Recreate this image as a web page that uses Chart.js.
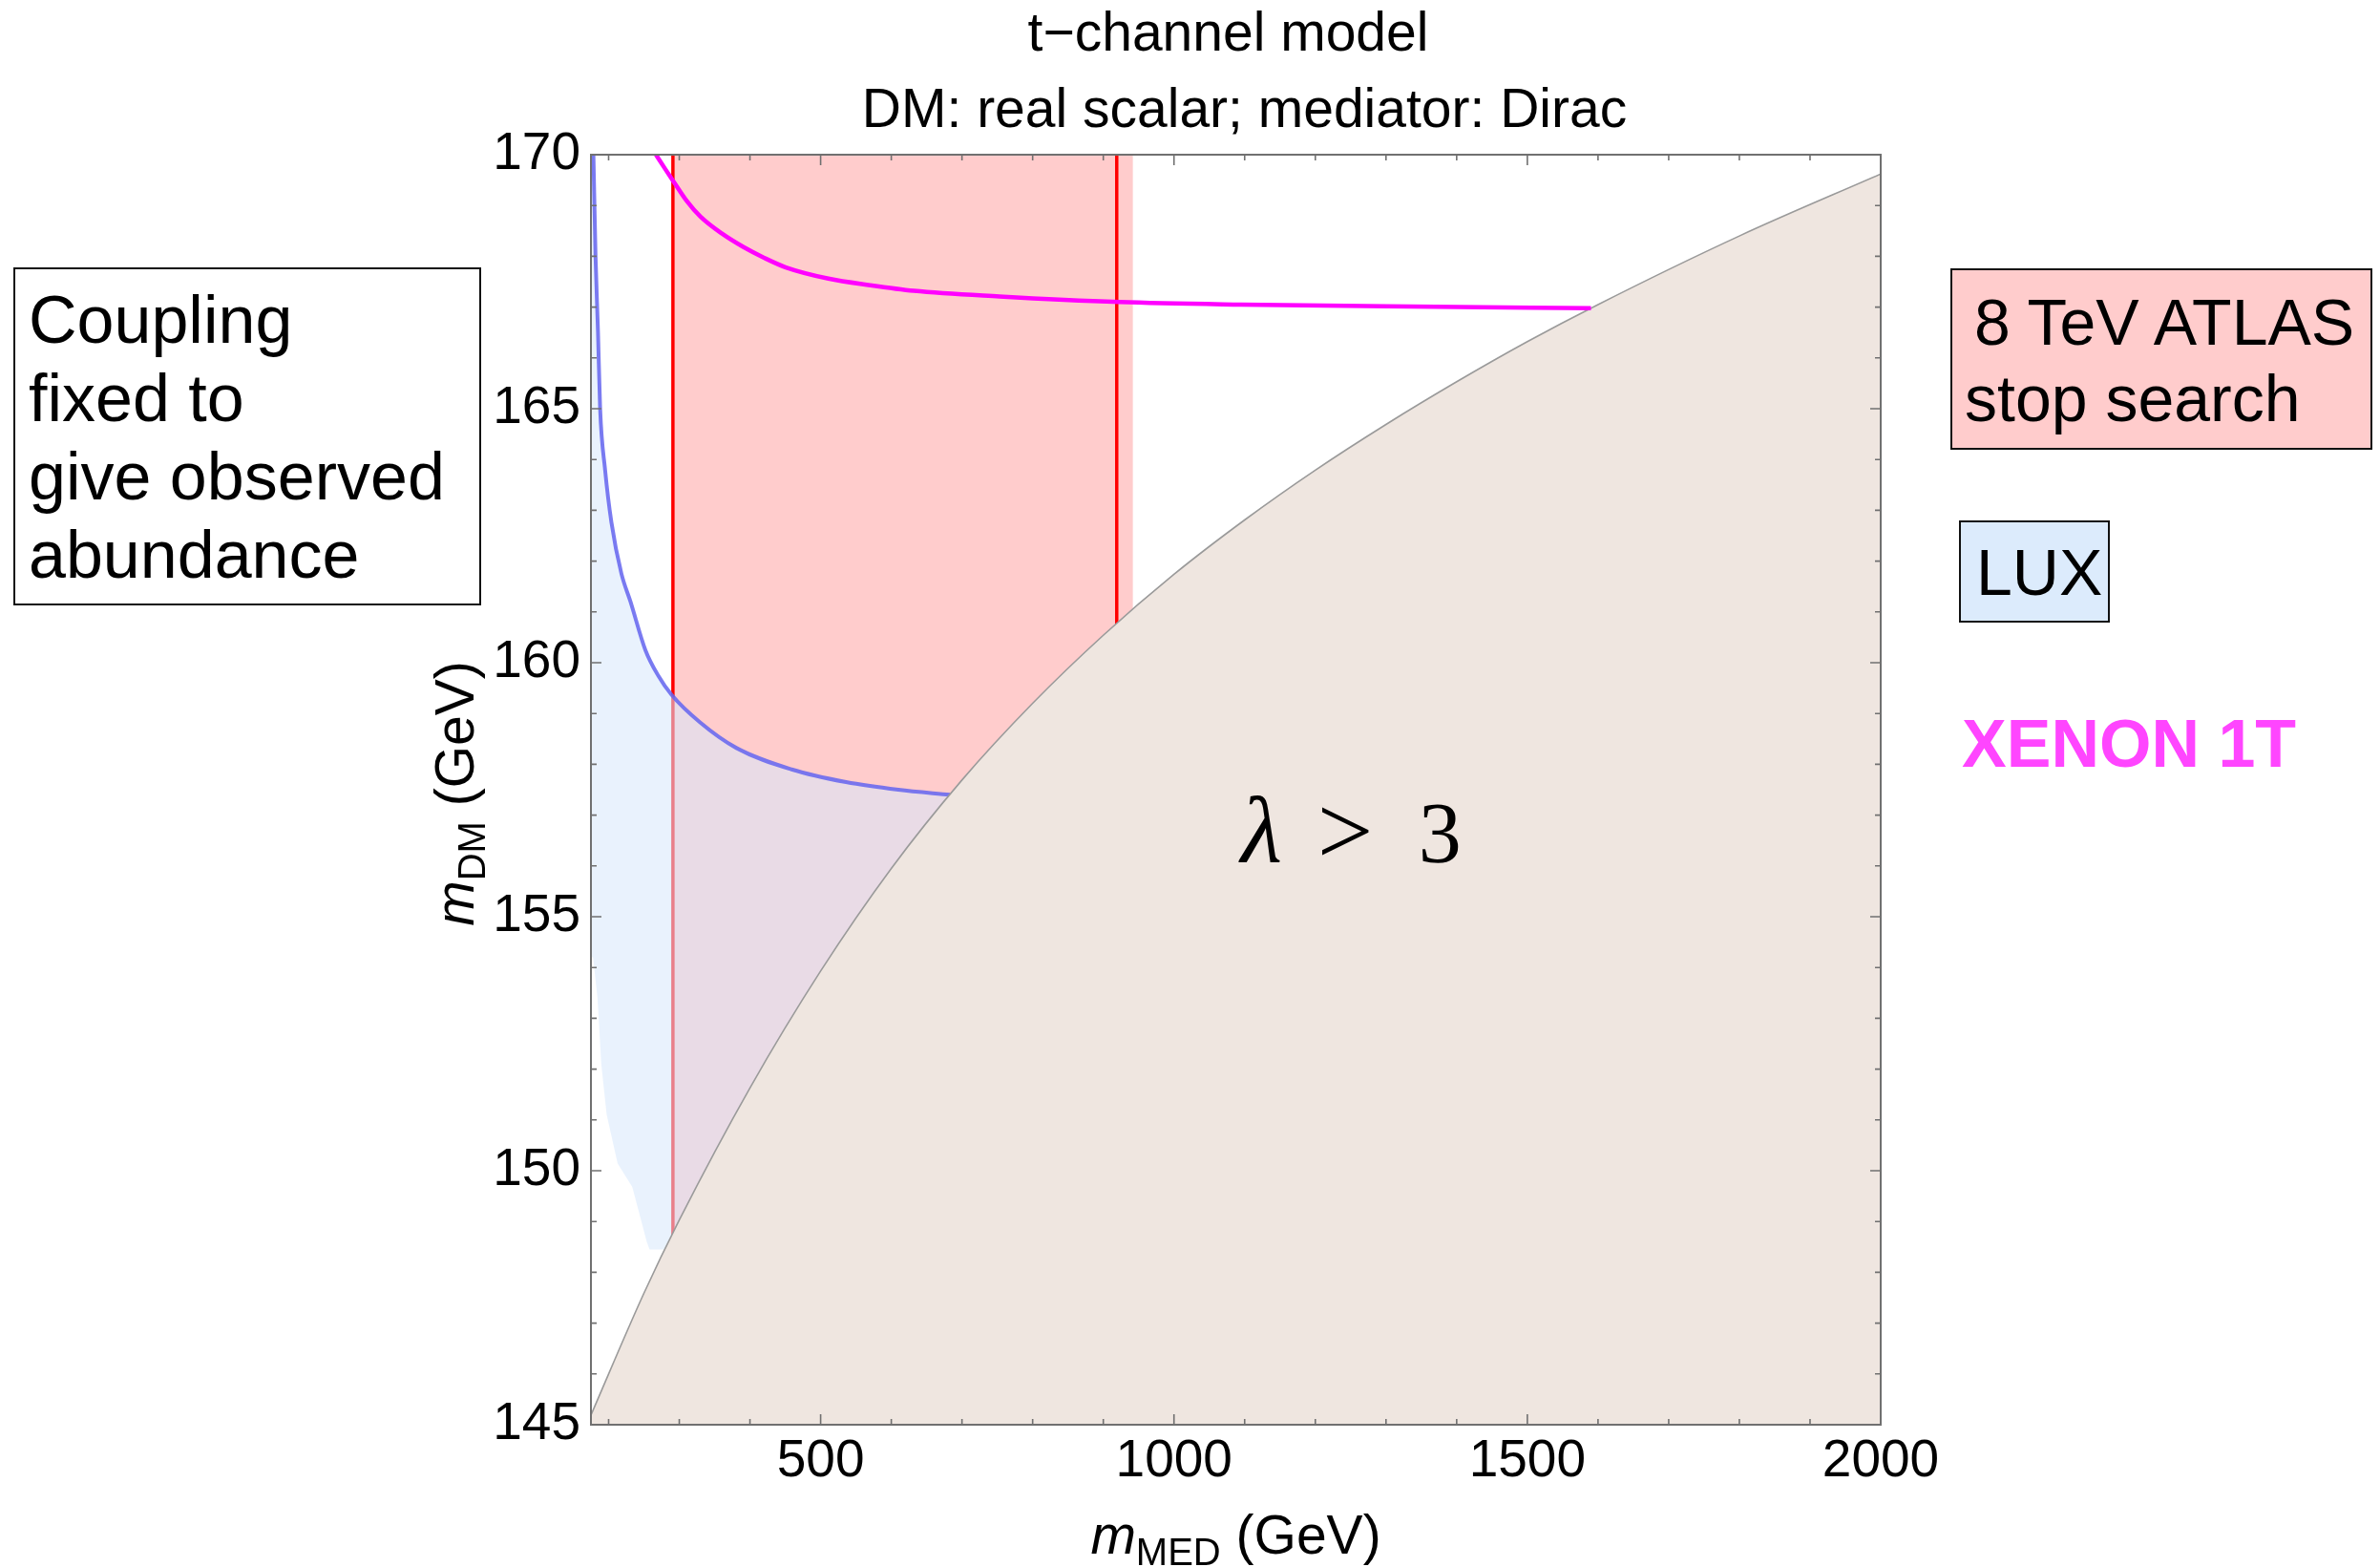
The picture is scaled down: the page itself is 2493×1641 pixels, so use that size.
<!DOCTYPE html>
<html><head><meta charset="utf-8">
<script src="https://cdn.jsdelivr.net/npm/chart.js@4"></script>
<style>
html,body{margin:0;padding:0;background:#fff;}
#wrap{position:relative;width:2493px;height:1641px;overflow:hidden;background:#fff;}
#c{position:absolute;left:0;top:0;}
.box{position:absolute;box-sizing:border-box;border:2px solid #111;}
.t{position:absolute;font-family:"Liberation Sans",Arial,sans-serif;white-space:nowrap;color:#000;}
</style></head><body>
<div id="wrap">
<canvas id="c" width="2493" height="1641" style="width:2493px;height:1641px"></canvas>
<div class="box" style="left:14px;top:280px;width:490px;height:354px;"></div>
<div class="t" style="left:30px;top:294px;font-size:70px;line-height:82px;">Coupling<br>fixed to<br>give observed<br>abundance</div>
<div class="box" style="left:2043px;top:281px;width:442px;height:190px;background:#ffcccc;"></div>
<div class="t" style="left:2068px;top:297px;font-size:68px;line-height:80px;">8 TeV ATLAS</div>
<div class="t" style="left:2058px;top:377px;font-size:68px;line-height:80px;">stop search</div>
<div class="box" style="left:2052px;top:545px;width:158px;height:107px;background:#dcebfc;"></div>
<div class="t" style="left:2070px;top:559px;font-size:68px;line-height:80px;">LUX</div>
<div class="t" style="left:2055px;top:739px;font-size:70px;line-height:80px;font-weight:bold;color:#ff45ff;">XENON 1T</div>
</div>
<script>
// ---- axis ticks ----
const xMajorTicks = [500, 1000, 1500, 2000];
const xTickValues = [200,300,400,500,600,700,800,900,1000,1100,1200,1300,1400,1500,1600,1700,1800,1900,2000];
const yMajorTicks = [145, 150, 155, 160, 165, 170];
const yTickValues = [145,146,147,148,149,150,151,152,153,154,155,156,157,158,159,160,161,162,163,164,165,166,167,168,169,170];

// ---- lambda > 3 boundary (m_MED, m_DM) ----
const lambdaX = [175, 250, 300, 400, 500, 600, 700, 800, 900, 1000, 1100, 1200, 1300, 1400, 1500, 1600, 1800, 2000];
const lambdaY = [145.19, 147.59, 149.03, 151.63, 153.93, 155.95, 157.69, 159.2, 160.54, 161.74, 162.81, 163.79, 164.69, 165.53, 166.32, 167.05, 168.4, 169.62];

// ---- XENON 1T projection ----
const xenonX = [267, 280, 292, 310, 330, 360, 391, 420, 451, 511, 570, 632, 753, 923, 1095, 1336, 1590];
const xenonY = [170, 169.72, 169.47, 169.1, 168.78, 168.45, 168.18, 167.97, 167.78, 167.56, 167.43, 167.32, 167.21, 167.1, 167.05, 167.01, 166.98];

// ---- LUX boundary line ----
const luxLineX = [178.5, 181.5, 185, 188, 195, 204, 218, 231, 252, 270, 289, 329, 381, 459, 536, 610, 683];
const luxLineY = [170, 168, 166.5, 165, 163.8, 162.76, 161.76, 161.2, 160.25, 159.75, 159.37, 158.83, 158.32, 157.9, 157.65, 157.5, 157.4];

// ---- LUX excluded region (closed outline) ----
const luxRegionX = [175, 178.5, 181.5, 185, 188, 195, 204, 218, 231, 252, 270, 289, 329, 381, 459, 536, 610, 683, 600, 500, 400, 300, 278, 258, 254, 233.5, 212.8, 197.3, 189.6, 184.3, 178, 175, 175];
const luxRegionY = [170, 170, 168, 166.5, 165, 163.8, 162.76, 161.76, 161.2, 160.25, 159.75, 159.37, 158.83, 158.32, 157.9, 157.65, 157.5, 157.4, 155.9, 153.9, 151.6, 149.0, 148.45, 148.45, 148.6, 149.68, 150.14, 151.1, 152.1, 153.4, 154.2, 154.2, 170];

// ---- ATLAS stop search band ----
const atlasFillX = [291, 942];
const atlasLeftLineX = 291;
const atlasRightLineX = 919;

const pts = (xs, ys) => xs.map((x, i) => ({x: x, y: ys[i]}));
const FONT = '"Liberation Sans", Arial, sans-serif';
const SERIF = '"Liberation Serif", "DejaVu Serif", serif';

const framePlugin = {
  id: 'frameTicks',
  afterDatasetsDraw(chart) {
    const {ctx, chartArea: a, scales: {x, y}} = chart;
    ctx.save();
    ctx.strokeStyle = '#707070';
    ctx.lineWidth = 1.6;
    ctx.beginPath();
    xTickValues.forEach(v => {
      const px = x.getPixelForValue(v);
      const len = xMajorTicks.includes(v) ? 11 : 6;
      ctx.moveTo(px, a.bottom); ctx.lineTo(px, a.bottom - len);
      ctx.moveTo(px, a.top); ctx.lineTo(px, a.top + len);
    });
    yTickValues.forEach(v => {
      const py = y.getPixelForValue(v);
      const len = yMajorTicks.includes(v) ? 11 : 6;
      ctx.moveTo(a.left, py); ctx.lineTo(a.left + len, py);
      ctx.moveTo(a.right, py); ctx.lineTo(a.right - len, py);
    });
    ctx.stroke();
    ctx.lineWidth = 2;
    ctx.strokeRect(a.left, a.top, a.right - a.left, a.bottom - a.top);
    ctx.restore();
  },
  afterDraw(chart) {
    const {ctx, chartArea: a, scales: {x, y}} = chart;
    const cx = (a.left + a.right) / 2;
    ctx.save();
    ctx.fillStyle = '#000';
    ctx.textBaseline = 'alphabetic';
    // title
    ctx.textAlign = 'center';
    ctx.font = '57px ' + FONT;
    ctx.fillText('t\u2212channel model', cx - 8, a.top - 109);
    ctx.fillText('DM: real scalar; mediator: Dirac', cx + 9, a.top - 29);
    // x axis title
    ctx.textAlign = 'left';
    const big = '57px ' + FONT, bigI = 'italic 57px ' + FONT, sub = '40px ' + FONT;
    ctx.font = bigI; const wm = ctx.measureText('m').width;
    ctx.font = sub; const wMED = ctx.measureText('MED').width, wDM = ctx.measureText('DM').width;
    ctx.font = big; const wsp = ctx.measureText(' ').width, wG = ctx.measureText('(GeV)').width;
    let tot = wm + wMED + wsp + wG;
    let sx = cx - tot / 2;
    const by = a.bottom + 135;
    ctx.font = bigI; ctx.fillText('m', sx, by);
    ctx.font = sub; ctx.fillText('MED', sx + wm, by + 12);
    ctx.font = big; ctx.fillText('(GeV)', sx + wm + wMED + wsp, by);
    // y axis title
    ctx.save();
    ctx.translate(a.left - 123, (a.top + a.bottom) / 2 + 4);
    ctx.rotate(-Math.PI / 2);
    tot = wm + wDM + wsp + wG;
    sx = -tot / 2;
    ctx.font = bigI; ctx.fillText('m', sx, 0);
    ctx.font = sub; ctx.fillText('DM', sx + wm, 12);
    ctx.font = big; ctx.fillText('(GeV)', sx + wm + wDM + wsp, 0);
    ctx.restore();
    // lambda > 3 label
    const lx = x.getPixelForValue(1100), ly = y.getPixelForValue(156.07);
    ctx.font = 'italic 100px ' + SERIF;
    ctx.fillText('\u03bb', lx - 4, ly);
    ctx.font = '104px ' + SERIF;
    ctx.fillText('>', lx + 76, ly + 2);
    ctx.font = '90px ' + SERIF;
    ctx.fillText('3', lx + 182, ly);
    ctx.restore();
  }
};

new Chart(document.getElementById('c'), {
  type: 'line',
  data: {
    datasets: [
      { label: 'XENON 1T', data: pts(xenonX, xenonY), borderColor: '#ff00ff', borderWidth: 4.5,
        pointRadius: 0, fill: false, cubicInterpolationMode: 'monotone', order: 0 },
      { label: 'lambda>3', data: pts(lambdaX, lambdaY), borderColor: '#9a9a9a', borderWidth: 1.6,
        backgroundColor: '#efe6e0', pointRadius: 0, fill: 'start', cubicInterpolationMode: 'monotone', order: 1 },
      { label: 'LUX line', data: pts(luxLineX, luxLineY), borderColor: 'rgba(100,100,238,0.85)', borderWidth: 4,
        pointRadius: 0, fill: false, cubicInterpolationMode: 'monotone', order: 2 },
      { label: 'LUX region', data: pts(luxRegionX, luxRegionY), borderWidth: 0, borderColor: 'rgba(0,0,0,0)',
        backgroundColor: 'rgba(215,232,252,0.55)', pointRadius: 0, fill: 'shape', tension: 0, order: 3 },
      { label: 'ATLAS left', data: [{x: atlasLeftLineX, y: 170}, {x: atlasLeftLineX, y: 145}], borderColor: '#ff0000',
        borderWidth: 3.5, pointRadius: 0, fill: false, order: 4 },
      { label: 'ATLAS right', data: [{x: atlasRightLineX, y: 170}, {x: atlasRightLineX, y: 145}], borderColor: '#ff0000',
        borderWidth: 3.5, pointRadius: 0, fill: false, order: 4 },
      { label: 'ATLAS band', data: [{x: atlasFillX[0], y: 170}, {x: atlasFillX[1], y: 170}], borderWidth: 0,
        borderColor: 'rgba(0,0,0,0)', backgroundColor: '#ffcccc', pointRadius: 0, fill: 'start', order: 5 }
    ]
  },
  options: {
    responsive: false, animation: false, devicePixelRatio: 1,
    layout: { padding: { left: 0, top: 162, right: 523, bottom: 0 } },
    plugins: { legend: { display: false }, tooltip: { enabled: false }, title: { display: false } },
    scales: {
      x: {
        type: 'linear', min: 175, max: 2000,
        grid: { display: false, drawTicks: false, tickLength: 0 }, border: { display: false },
        afterBuildTicks: s => { s.ticks = xTickValues.map(v => ({value: v})); },
        afterFit: s => { s.height = 149; },
        ticks: { autoSkip: false, maxRotation: 0, minRotation: 0, padding: 6, color: '#000',
          font: { family: FONT, size: 55 },
          callback: v => xMajorTicks.includes(v) ? String(v) : '' }
      },
      y: {
        type: 'linear', min: 145, max: 170,
        grid: { display: false, drawTicks: false, tickLength: 0 }, border: { display: false },
        afterBuildTicks: s => { s.ticks = yTickValues.map(v => ({value: v})); },
        afterFit: s => { s.width = 619; },
        ticks: { autoSkip: false, padding: 11, color: '#000',
          font: { family: FONT, size: 55 },
          callback: v => yMajorTicks.includes(v) ? String(v) : '' }
      }
    }
  },
  plugins: [framePlugin]
});
</script>
</body></html>
